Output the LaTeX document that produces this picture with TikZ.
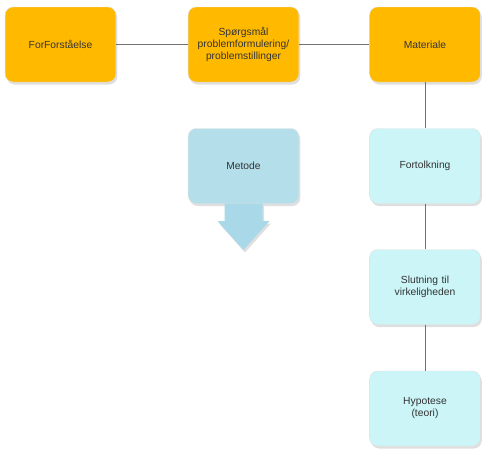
\documentclass[tikz,border=0pt]{standalone}
\usepackage{fontspec}
\setmainfont{Liberation Sans}
\usetikzlibrary{shadows}
\definecolor{orangebox}{HTML}{FFBA00}
\definecolor{cyanbox}{HTML}{CBF5F7}
\definecolor{bluebox}{HTML}{B3DEEA}
\definecolor{arrowblue}{HTML}{A9D9E8}
\definecolor{txt}{HTML}{333333}
\definecolor{conn}{HTML}{707070}
\pgfdeclareverticalshading{oshade}{100bp}{color(0bp)=(orangebox!75!white); color(10bp)=(orangebox!92!white); color(16bp)=(orangebox); color(90bp)=(orangebox); color(100bp)=(orangebox!80!white)}
\pgfdeclareverticalshading{cshade}{100bp}{color(0bp)=(cyanbox!55!white); color(10bp)=(cyanbox!85!white); color(16bp)=(cyanbox); color(90bp)=(cyanbox); color(100bp)=(cyanbox!80!white)}
\pgfdeclareverticalshading{bshade}{100bp}{color(0bp)=(bluebox!60!white); color(10bp)=(bluebox!88!white); color(16bp)=(bluebox); color(90bp)=(bluebox); color(100bp)=(bluebox!80!white)}
\begin{document}
\begin{tikzpicture}[x=1pt,y=-1pt,
  box/.style={rounded corners=8pt, minimum width=107pt, minimum height=75pt,
    text width=104pt, align=center, font=\fontsize{10.3}{12}\selectfont, text=txt,
    draw=black!12, line width=0.4pt,
    drop shadow={shadow xshift=1.5pt, shadow yshift=-2.5pt, opacity=0.25}},
  obox/.style={box, shading=oshade},
  cbox/.style={box, shading=cshade},
  bbox/.style={box, shading=bshade},
  link/.style={draw=conn, line width=0.8pt}]
\useasboundingbox (0,0) rectangle (482,453);
\node[obox] (forf) at (60.5,44.5) {ForForståelse};
\node[obox] (spm) at (243.5,44.5) {Spørgsmål\\problemformulering/\\problemstillinger};
\node[obox] (mat) at (425,44.5) {Materiale};
\node[bbox] (met) at (243.5,166) {Metode};
\node[cbox] (fort) at (425,166) {Fortolkning};
\node[cbox] (slut) at (425,287) {Slutning til\\virkeligheden};
\node[cbox] (hyp) at (425,408.5) {Hypotese\\(teori)};
\path[link] (forf) -- (spm);
\path[link] (spm) -- (mat);
\path[link] (mat) -- (fort);
\path[link] (fort) -- (slut);
\path[link] (slut) -- (hyp);
\coordinate (tip) at (243.5,250);
\fill[arrowblue, drop shadow={shadow xshift=1.5pt, shadow yshift=-2.5pt, opacity=0.25}]
  (224.5,203.5) -- (224.5,221) -- (217.5,221) -- (tip) -- (269.5,221) -- (262.5,221) -- (262.5,203.5) -- cycle;
\end{tikzpicture}
\end{document}
